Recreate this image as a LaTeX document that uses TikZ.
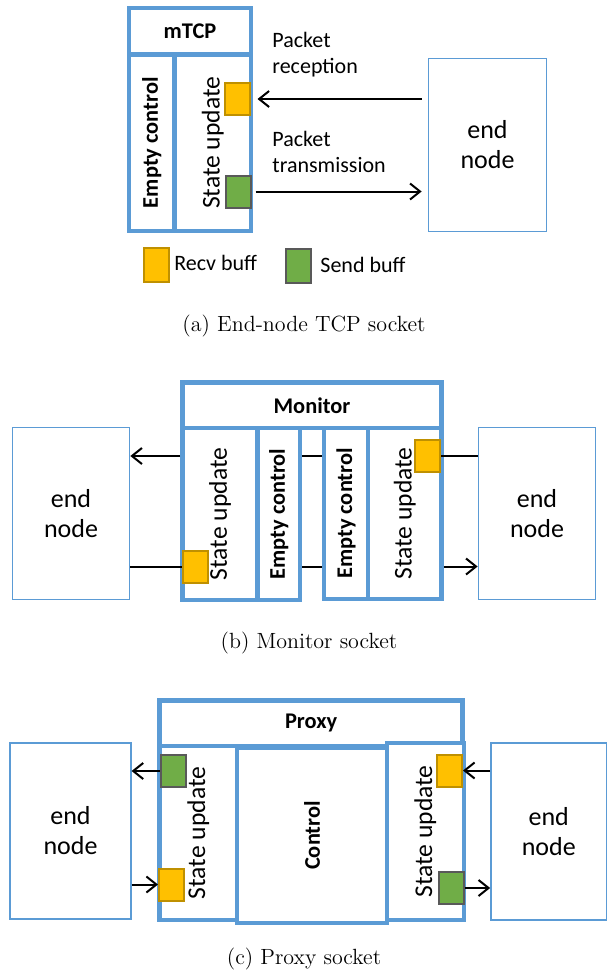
\documentclass[tikz,border=0pt]{standalone}
\usepackage{fontspec}
\usetikzlibrary{arrows.meta,positioning}
\newfontfamily\calibri{Carlito}

\begin{document}
\begin{tikzpicture}[
    x=0.5pt, y=-0.5pt,
    frame/.style={
        draw=framecol,
        line width=2.3pt,
        fill=white,
        inner sep=0pt
    },
    column/.style={
        frame,
        rotate=90,
        font=\calibri\fontsize{12.8}{15}\selectfont
    },
    ctlcol/.style={
        frame,
        rotate=90,
        font=\calibri\bfseries\fontsize{11.2}{13}\selectfont
    },
    header/.style={
        frame,
        font=\calibri\bfseries\fontsize{11.2}{13}\selectfont
    },
    endbox/.style={
        draw=framecol,
        line width=0.85pt,
        align=center,
        inner sep=0pt,
        font=\calibri\fontsize{13}{15}\selectfont
    },
    recvbuf/.style={
        fill=recvcol,
        draw=recvedge,
        line width=1pt,
        inner sep=0pt,
        minimum width=12.5pt,
        minimum height=16pt
    },
    sendbuf/.style={
        recvbuf,
        fill=sendcol,
        draw=sendedge
    },
    note/.style={
        align=left,
        anchor=west,
        inner sep=0pt,
        font=\calibri\fontsize{11}{13}\selectfont
    },
    wire/.style={line width=1pt},
    arr/.style={wire, -{Straight Barb[length=5pt,width=8pt]}},
    caption/.style={font=\fontsize{11}{13}\selectfont}
]

\definecolor{framecol}{HTML}{5B9BD5}
\definecolor{recvcol}{HTML}{FFC000}
\definecolor{recvedge}{HTML}{BF9000}
\definecolor{sendcol}{HTML}{70AD47}
\definecolor{sendedge}{HTML}{595959}

\useasboundingbox (0,0) rectangle (608,971);

% (a) end-node socket
\node[header, minimum width=61pt, minimum height=23.25pt] (hdrA) at (190,31.25) {mTCP};
\node[ctlcol, minimum width=88.25pt, minimum height=22.75pt] (ecA) at (151.75,142.75) {Empty control};
\node[column, minimum width=88.25pt, minimum height=38.25pt] (suA) at (212.75,142.75) {State update};

\node[recvbuf] (recvA) at (237,99) {};
\node[sendbuf] (sendA) at (238,191.5) {};

\node[endbox, minimum width=59pt, minimum height=86.5pt] (endA) at (487.5,145) {end\\node};

\node[note] (rxA) at (272,55) {Packet\\reception};
\node[note] (txA) at (272,151.5) {Packet\\transmission};

\draw[arr, shorten <=3pt, shorten >=3.5pt] (endA.west |- recvA) -- (recvA.east);
\draw[arr, shorten <=2pt, shorten >=3pt] (sendA.east) -- (endA.west |- sendA);

\node[recvbuf, minimum height=17pt] (recvL) at (156,264.5) {};
\node[note] (recvT) at (174,263) {Recv buff};
\node[sendbuf, minimum height=17pt] (sendL) at (298,266) {};
\node[note] (sendT) at (320,265) {Send buff};

\node[caption] (capA) at (304,326) {(a) End-node TCP socket};

% (b) monitor socket
\node[header, minimum width=129.5pt, minimum height=22.75pt] (hdrB) at (312,405.25) {Monitor};
\node[column, minimum width=86pt, minimum height=37.5pt] (su1B) at (220,514) {State update};
\node[ctlcol, minimum width=86pt, minimum height=21.25pt] (ec1B) at (278.75,514) {Empty control};
\node[ctlcol, minimum width=85.5pt, minimum height=22pt] (ec2B) at (346,513.5) {Empty control};
\node[column, minimum width=85.5pt, minimum height=36.75pt] (su2B) at (404.75,513.5) {State update};

\node[recvbuf] (recvB1) at (195,566.5) {};
\node[recvbuf] (recvB2) at (427.5,456) {};

\node[endbox, minimum width=58.5pt, minimum height=86pt] (endB1) at (71,513.5) {end\\node};
\node[endbox, minimum width=58.5pt, minimum height=86pt] (endB2) at (537,513.5) {end\\node};

\draw[arr] (hdrB.west |- recvB2) -- (endB1.east |- recvB2);
\draw[wire] (ec1B.south |- recvB2) -- (ec2B.north |- recvB2);
\draw[wire] (recvB2.east) -- (endB2.west |- recvB2);
\draw[wire] (endB1.east |- recvB1) -- (recvB1.west);
\draw[wire] (ec1B.south |- recvB1) -- (ec2B.north |- recvB1);
\draw[arr] (su2B.south |- recvB1) -- (endB2.west |- recvB1);

\node[caption] (capB) at (309,643) {(b) Monitor socket};

% (c) proxy socket
\node[header, minimum width=151.6pt, minimum height=22.75pt] (hdrC) at (311.1,723.25) {Proxy};
\node[column, minimum width=87pt, minimum height=38.75pt] (su1C) at (198.25,833) {State update};
\node[column, minimum width=88.5pt, minimum height=38.4pt] (su2C) at (425.4,831.5) {State update};
\node[ctlcol, minimum width=87.5pt, minimum height=75pt] (ctlC) at (312,835.5) {Control};

\node[sendbuf] (sendC1) at (173,771) {};
\node[recvbuf] (recvC1) at (171.5,884.5) {};
\node[recvbuf] (recvC2) at (449.5,770.5) {};
\node[sendbuf] (sendC2) at (451,888) {};

\node[endbox, minimum width=60.25pt, minimum height=88.25pt] (endC1) at (70.5,831) {end\\node};
\node[endbox, minimum width=57.75pt, minimum height=88.5pt] (endC2) at (548.75,831.5) {end\\node};

\draw[arr] (sendC1.west) -- (endC1.east |- sendC1);
\draw[arr] (endC1.east |- recvC1) -- (recvC1.west);
\draw[arr] (endC2.west |- recvC2) -- (recvC2.east);
\draw[arr] (sendC2.east) -- (endC2.west |- sendC2);

\node[caption] (capC) at (304,959) {(c) Proxy socket};

\end{tikzpicture}
\end{document}
